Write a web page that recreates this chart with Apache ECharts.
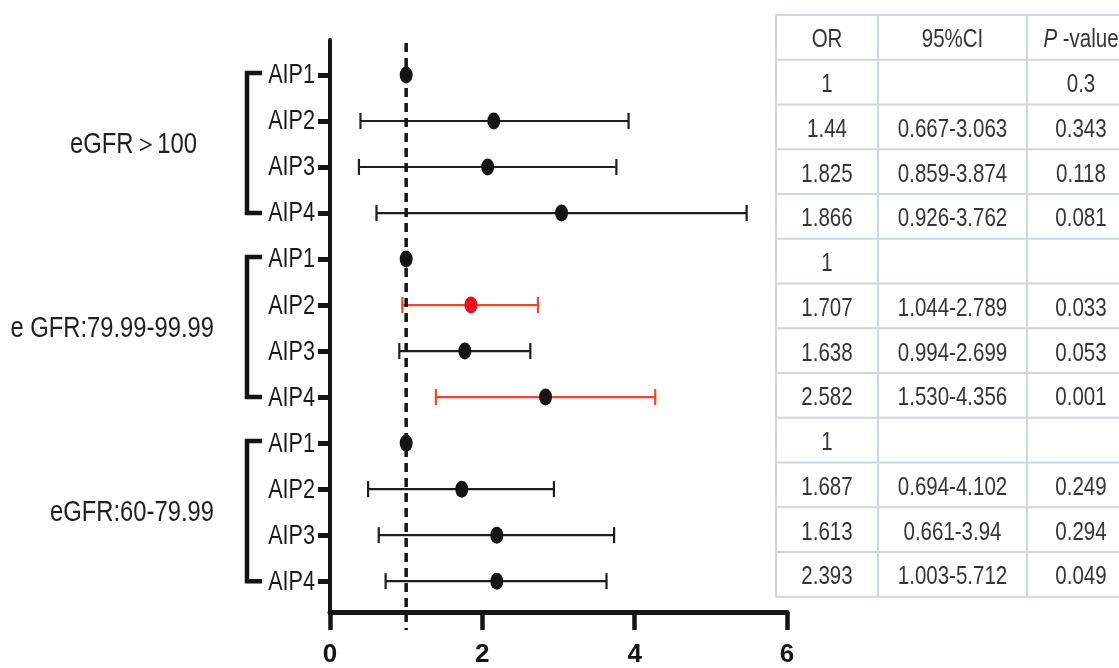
<!DOCTYPE html>
<html>
<head>
<meta charset="utf-8">
<script src="https://cdn.jsdelivr.net/npm/echarts@6.0.0/dist/echarts.min.js"></script>
<style>
html,body{margin:0;padding:0;background:#fff;}
#chart{width:1119px;height:668px;}
</style>
</head>
<body>
<div id="chart"></div>
<script>
// ---------------- data ----------------
const groups = ['eGFR\uFF1E100', 'e GFR:79.99-99.99', 'eGFR:60-79.99'];
const levels = ['AIP1', 'AIP2', 'AIP3', 'AIP4'];
// plotted values, rows top to bottom
const pointOR = [1, 2.15, 2.07, 3.04, 1, 1.85, 1.77, 2.83, 1, 1.73, 2.19, 2.19];
const ciLow   = [null, 0.40, 0.38, 0.61, null, 0.95, 0.91, 1.39, null, 0.50, 0.64, 0.73];
const ciHigh  = [null, 3.92, 3.76, 5.47, null, 2.73, 2.63, 4.27, null, 2.94, 3.73, 3.63];
const redBar   = [0,0,0,0, 0,1,0,1, 0,0,0,0];
const redPoint = [0,0,0,0, 0,1,0,0, 0,0,0,0];
const xTicks = [0, 2, 4, 6];
const refValue = 1;
// table
const tableHeader = ['OR', '95%CI', 'P-value'];
const tableOR = ['1','1.44','1.825','1.866','1','1.707','1.638','2.582','1','1.687','1.613','2.393'];
const tableCI = ['','0.667-3.063','0.859-3.874','0.926-3.762','','1.044-2.789','0.994-2.699','1.530-4.356','','0.694-4.102','0.661-3.94','1.003-5.712'];
const tableP  = ['0.3','0.343','0.118','0.081','','0.033','0.053','0.001','','0.249','0.294','0.049'];

// ---------------- layout / style ----------------
const Y_MIN = -0.76, Y_MAX = 11.67;
const BLACK = '#151515';
const RED_LINE = '#f0462a';
const RED_DOT = '#e8141c';
const FONT = '"Liberation Sans", Arial, sans-serif';
const NARROW_SCALE = 0.82;
const groupLabelGap = [133, 116, 116];
const table = { cols: [776, 878, 1027, 1135], top: 15, rowH: 44.75, line: '#d0d6dd', text: '#353535', size: 25 };

const rows = pointOR.map((_, i) => i);
const chart = echarts.init(document.getElementById('chart'), null, { renderer: 'canvas' });

// table graphics
const graphics = [];
const nRows = tableOR.length + 1;
for (let r = 0; r <= nRows; r++) {
  const y = table.top + r * table.rowH;
  graphics.push({ type: 'line', shape: { x1: table.cols[0], y1: y, x2: table.cols[3], y2: y }, style: { stroke: table.line, lineWidth: 2 }, silent: true });
}
for (let c = 0; c < 3; c++) {
  const x = table.cols[c];
  graphics.push({ type: 'line', shape: { x1: x, y1: table.top, x2: x, y2: table.top + nRows * table.rowH }, style: { stroke: table.line, lineWidth: 2 }, silent: true });
}
function cellText(txt, r, c, rich) {
  const cx = (table.cols[c] + table.cols[c + 1]) / 2;
  const cy = table.top + (r + 0.5) * table.rowH + 3;
  const el = { type: 'text', x: cx, y: cy, scaleX: NARROW_SCALE, silent: true,
    style: { text: txt, fill: table.text, font: table.size + 'px ' + FONT, align: 'center', verticalAlign: 'middle' } };
  if (rich) el.style.rich = rich;
  graphics.push(el);
}
cellText(tableHeader[0], 0, 0);
cellText(tableHeader[1], 0, 1);
cellText('{i|P}{n| -value}', 0, 2, {
  i: { fontStyle: 'italic', fontSize: table.size, fontFamily: FONT, fill: table.text },
  n: { fontSize: table.size, fontFamily: FONT, fill: table.text }
});
for (let i = 0; i < tableOR.length; i++) {
  cellText(tableOR[i], i + 1, 0);
  cellText(tableCI[i], i + 1, 1);
  cellText(tableP[i], i + 1, 2);
}

const option = {
  backgroundColor: '#fff',
  animation: false,
  grid: { left: 330, right: 332, top: 40, bottom: 54, containLabel: false },
  xAxis: {
    type: 'value', min: 0, max: 6, interval: 2,
    axisLine: { show: true, onZero: false, lineStyle: { color: BLACK, width: 5 } },
    axisTick: { show: true, length: 18, inside: false, lineStyle: { color: BLACK, width: 4.5 } },
    axisLabel: { margin: 30, color: BLACK, fontSize: 26, fontWeight: 'bold', fontFamily: FONT },
    splitLine: { show: false }
  },
  yAxis: {
    type: 'value', min: Y_MIN, max: Y_MAX, inverse: true,
    axisLine: { show: true, onZero: false, lineStyle: { color: BLACK, width: 4 } },
    axisTick: { show: true, customValues: rows, length: 12, lineStyle: { color: BLACK, width: 5 } },
    axisLabel: { show: false },
    splitLine: { show: false }
  },
  graphic: graphics,
  series: [
    { // row labels (narrowed), brackets & group labels
      type: 'custom', clip: false, silent: true, z: 1,
      data: groups.map((g, gi) => [0, gi * 4]),
      renderItem: (params, api) => {
        const gi = params.dataIndex;
        const top = api.coord([0, gi * 4]);
        const bot = api.coord([0, gi * 4 + 3]);
        const axisX = top[0];
        const bx = axisX - 83, sx = axisX - 68;
        const children = [
          { type: 'polyline', shape: { points: [[sx, top[1] - 2], [bx, top[1] - 2], [bx, bot[1]], [sx, bot[1]]] },
            style: { stroke: BLACK, lineWidth: 4.5, fill: null } },
          { type: 'text', x: axisX - groupLabelGap[gi], y: (top[1] + bot[1]) / 2 + 1, scaleX: NARROW_SCALE,
            style: { text: groups[gi], fill: '#1f1f1f', font: '29px ' + FONT, align: 'right', verticalAlign: 'middle' } }
        ];
        levels.forEach((lv, li) => {
          const p = api.coord([0, gi * 4 + li]);
          children.push({ type: 'text', x: p[0] - 15, y: p[1] + 1, scaleX: 0.8,
            style: { text: lv, fill: '#1a1a1a', font: '27px ' + FONT, align: 'right', verticalAlign: 'middle' } });
        });
        return { type: 'group', children };
      }
    },
    { // error bars
      type: 'custom', clip: false, silent: true, z: 2,
      encode: { x: [0, 1], y: 2 },
      data: rows.filter(i => ciLow[i] !== null).map(i => [ciLow[i], ciHigh[i], i, redBar[i]]),
      renderItem: (params, api) => {
        const lo = api.coord([api.value(0), api.value(2)]);
        const hi = api.coord([api.value(1), api.value(2)]);
        const col = api.value(3) ? RED_LINE : '#1e1e1e';
        const lw = 2.2, cap = 8;
        return { type: 'group', children: [
          { type: 'line', shape: { x1: lo[0], y1: lo[1], x2: hi[0], y2: hi[1] }, style: { stroke: col, lineWidth: lw } },
          { type: 'line', shape: { x1: lo[0], y1: lo[1] - cap, x2: lo[0], y2: lo[1] + cap }, style: { stroke: col, lineWidth: lw } },
          { type: 'line', shape: { x1: hi[0], y1: hi[1] - cap, x2: hi[0], y2: hi[1] + cap }, style: { stroke: col, lineWidth: lw } }
        ] };
      }
    },
    { // reference dashed line
      type: 'custom', clip: false, silent: true, z: 3,
      data: [[refValue, Y_MIN]],
      renderItem: (params, api) => {
        const p0 = api.coord([refValue, Y_MIN]);
        const p1 = api.coord([refValue, Y_MAX]);
        return { type: 'line', shape: { x1: p0[0], y1: p0[1] + 3, x2: p1[0], y2: p1[1] + 18 },
          style: { stroke: BLACK, lineWidth: 3.5, lineDash: [9, 6] } };
      }
    },
    { // points
      type: 'scatter', z: 4, symbol: 'circle', symbolSize: [13, 17],
      itemStyle: { opacity: 1 },
      data: rows.map(i => ({ value: [pointOR[i], i], itemStyle: { color: redPoint[i] ? RED_DOT : BLACK, opacity: 1 } }))
    }
  ]
};
chart.setOption(option);
</script>
</body>
</html>
